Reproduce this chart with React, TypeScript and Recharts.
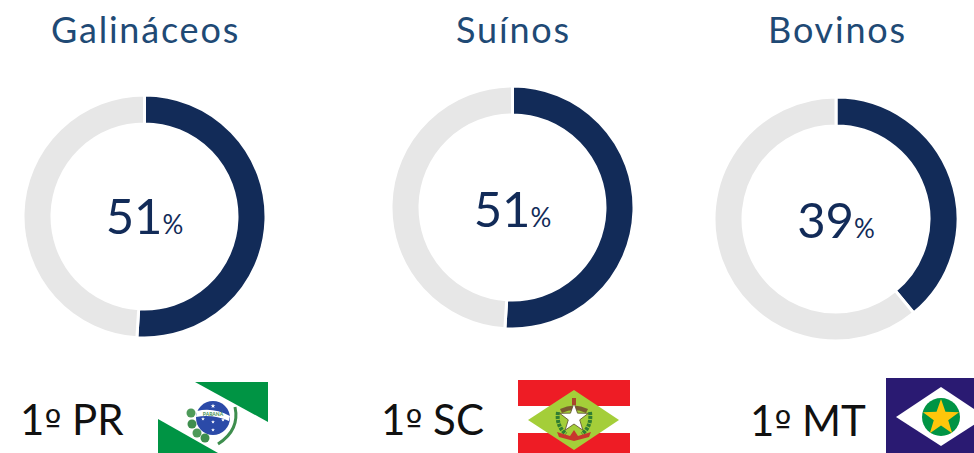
import { Pie, PieChart } from 'recharts'

const titles = ['Galináceos', 'Suínos', 'Bovinos']
const shares = [51, 51, 39]
const ranks = ['PR', 'SC', 'MT']

const NAVY = '#122B58'
const GREY = '#E7E7E7'
const TITLE = '#1F4A75'
const FONT = 'Lato, sans-serif'

const layout = [
  { cx: 144.5, cy: 216.5, r: 121.5, titleX: 145.5, pctY: 215, rankX: 20, rankY: 435 },
  { cx: 512.5, cy: 207, r: 121.5, titleX: 513.5, pctY: 208, rankX: 381, rankY: 435 },
  { cx: 836, cy: 219, r: 122, titleX: 837.5, pctY: 219, rankX: 750, rankY: 436 },
]

function star(cx: number, cy: number, r: number) {
  const pts: string[] = []
  for (let i = 0; i < 10; i++) {
    const rad = i % 2 === 0 ? r : r * 0.4
    const a = (-90 + i * 36) * (Math.PI / 180)
    pts.push(`${cx + rad * Math.cos(a)},${cy + rad * Math.sin(a)}`)
  }
  return pts.join(' ')
}

function Donut({ index }: { index: number }) {
  const { cx, cy, r } = layout[index]
  const data = [
    { name: 'share', value: shares[index], fill: NAVY },
    { name: 'rest', value: 100 - shares[index], fill: GREY },
  ]
  return (
    <div style={{ position: 'absolute', left: cx - r - 4, top: cy - r - 4 }}>
      <PieChart width={2 * r + 8} height={2 * r + 8} margin={{ top: 0, right: 0, bottom: 0, left: 0 }}>
        <Pie
          data={data}
          dataKey="value"
          cx="50%"
          cy="50%"
          outerRadius={r}
          innerRadius={r - 29}
          startAngle={90}
          endAngle={-270}
          stroke="#fff"
          strokeWidth={3}
          isAnimationActive={false}
        />
      </PieChart>
    </div>
  )
}

function Flags() {
  return (
    <svg
      width={974}
      height={453}
      style={{ position: 'absolute', left: 0, top: 0, pointerEvents: 'none' }}
    >
      {/* Parana */}
      <polygon points="195,382 268,382 268,422" fill="#009444" />
      <polygon points="158,419 218,453 158,453" fill="#009444" />
      <circle cx={213} cy={418} r={17} fill="#2B4AA8" />
      <path d="M197 411 Q213 407 230 416 L229 421 Q213 414 196 417 Z" fill="#fff" />
      <text x={213} y={416} textAnchor="middle" fontSize={5} fontFamily={FONT} fontWeight={700} fill="#3E8E4E">
        PARANÁ
      </text>
      <circle cx={191} cy={413} r={4.5} fill="#4E9A5A" />
      <circle cx={192} cy={424} r={4.5} fill="#3E8E4E" />
      <circle cx={197} cy={433} r={4.5} fill="#4E9A5A" />
      <circle cx={205} cy={438} r={4.5} fill="#3E8E4E" />
      <path d="M235 407 Q240 430 218 444" fill="none" stroke="#3E8E4E" strokeWidth={3} />
      <polygon points={star(213, 406, 2.5)} fill="#fff" />
      <polygon points={star(203, 419, 2)} fill="#fff" />
      <polygon points={star(213, 422, 2)} fill="#fff" />
      <polygon points={star(223, 420, 2)} fill="#fff" />
      <polygon points={star(213, 430, 2)} fill="#fff" />

      {/* Santa Catarina */}
      <rect x={518} y={380} width={112} height={26} fill="#EE1C25" />
      <rect x={518} y={433} width={112} height={20} fill="#EE1C25" />
      <polygon points="528,420 574,390 619,420 574,450" fill="#A4CE39" />
      <path d="M558 412 Q556 426 566 434 M590 412 Q592 426 582 434" fill="none" stroke="#2F7D32" strokeWidth={4} strokeDasharray="3 1" />
      <path d="M560 409 Q574 402 588 409 L586 413 Q574 407 562 413 Z" fill="#7A5A30" />
      <polygon points={star(574, 418, 15)} fill="#fff" stroke="#5A4A2A" strokeWidth={0.8} />
      <rect x={572} y={398} width={4} height={7} fill="#A8452C" />
      <path d="M557 432 L570 436 L574 430 L578 436 L591 432 L589 437 L574 441 L559 437 Z" fill="#C8372D" />

      {/* Mato Grosso */}
      <rect x={886} y={378} width={88} height={75} fill="#2A1A72" />
      <polygon points="896,417 941,387 986,417 941,446" fill="#fff" />
      <circle cx={941} cy={417} r={19} fill="#009444" />
      <polygon points={star(941, 418, 19)} fill="#FFC60B" />
    </svg>
  )
}

export default function App() {
  return (
    <div
      style={{
        position: 'absolute',
        left: 0,
        top: 0,
        width: 974,
        height: 453,
        overflow: 'hidden',
        background: '#fff',
        fontFamily: FONT,
      }}
    >
      {titles.map((_, i) => (
        <Donut key={i} index={i} />
      ))}
      <Flags />
      <svg width={974} height={453} style={{ position: 'absolute', left: 0, top: 0 }}>
        {titles.map((t, i) => (
          <text
            key={t}
            x={layout[i].titleX}
            y={43}
            textAnchor="middle"
            fontFamily={FONT}
            fontSize={36}
            letterSpacing={1.8}
            fill={TITLE}
          >
            {t}
          </text>
        ))}
        {shares.map((v, i) => (
          <text
            key={i}
            x={layout[i].cx}
            y={layout[i].pctY + 19}
            textAnchor="middle"
            fontFamily={FONT}
            fontSize={49}
            fill={NAVY}
          >
            {v}
            <tspan fontSize={26}>%</tspan>
          </text>
        ))}
        {ranks.map((t, i) => (
          <text key={t} x={layout[i].rankX} y={layout[i].rankY} fontFamily={FONT} fontSize={42} fill="#111">
            1<tspan fontFamily="'DejaVu Sans'" fontSize={36}>º</tspan> {t}
          </text>
        ))}
      </svg>
    </div>
  )
}
